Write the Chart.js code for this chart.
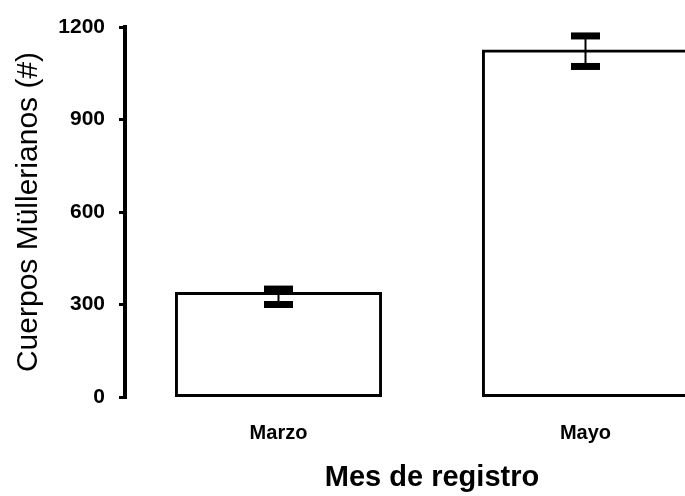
<!DOCTYPE html>
<html>
<head>
<meta charset="utf-8">
<script src="https://cdn.jsdelivr.net/npm/chart.js@4"></script>
<style>
    body { margin: 0; background: #fff; overflow: hidden; }
    #wrap { width: 685px; height: 496px; overflow: hidden; }
</style>
</head>
<body>
<div id="wrap">
    <canvas id="barChart" width="739" height="496"></canvas>
</div>
<script>
// data
const categorias = ["Marzo", "Mayo"];
const medias = [336, 1122];
const errorAlto = [350, 1171];
const errorBajo = [300, 1072];
const yTicks = [0, 300, 600, 900, 1200];

const fuente = "'Liberation Sans', Arial, sans-serif";

//draws the error bars with the chart's own y scale
const barrasError = {
    id: 'barrasError',
    afterDatasetsDraw(chart) {
        const ctx = chart.ctx;
        const y = chart.scales.y;
        const meta = chart.getDatasetMeta(0);
        ctx.save();
        ctx.fillStyle = '#000';
        ctx.strokeStyle = '#000';
        for (let i = 0; i < meta.data.length; i++) {
            const x = meta.data[i].x;
            const yHi = y.getPixelForValue(errorAlto[i]);
            const yLo = y.getPixelForValue(errorBajo[i]);
            ctx.lineWidth = 2;
            ctx.beginPath();
            ctx.moveTo(x, yHi);
            ctx.lineTo(x, yLo);
            ctx.stroke();
            ctx.fillRect(x - 14.5, yHi - 3.5, 29, 7);
            ctx.fillRect(x - 14.5, yLo - 3.5, 29, 7);
        }
        ctx.restore();
    }
};

const ctx = document.getElementById('barChart');

new Chart(ctx, {
    type: 'bar',
    data: {
        labels: categorias,
        datasets: [{
            data: medias,
            backgroundColor: '#fff',
            borderColor: '#000',
            borderWidth: 3,
            borderSkipped: false,
            inflateAmount: 1.5,
            barPercentage: 0.665,
            categoryPercentage: 1
        }]
    },
    options: {
        responsive: false,
        animation: false,
        layout: { padding: { top: 27, left: 0, right: 0, bottom: 0 } },
        plugins: {
            legend: { display: false },
            tooltip: { enabled: false }
        },
        scales: {
            x: {
                grid: { display: false },
                border: { display: false },
                ticks: {
                    color: '#000',
                    font: { family: fuente, size: 20, weight: 'bold' },
                    padding: 16
                },
                title: {
                    display: true,
                    text: 'Mes de registro',
                    color: '#000',
                    font: { family: fuente, size: 29, weight: 'bold' },
                    padding: { top: 0, bottom: 1 }
                },
                afterFit: (scale) => { scale.height = 99; }
            },
            y: {
                min: 0,
                max: 1200,
                afterBuildTicks: (scale) => {
                    scale.ticks = yTicks.map(v => ({ value: v }));
                },
                grid: {
                    drawOnChartArea: false,
                    drawTicks: true,
                    tickLength: 6,
                    color: '#000',
                    lineWidth: 3
                },
                border: { display: true, color: '#000', width: 4 },
                ticks: {
                    color: '#000',
                    font: { family: fuente, size: 21, weight: 'bold' },
                    padding: 14,
                    callback: (v) => String(v)
                },
                title: {
                    display: true,
                    text: 'Cuerpos Müllerianos (#)',
                    color: '#000',
                    font: { family: fuente, size: 30 },
                    padding: { top: 11, bottom: 0 }
                },
                afterFit: (scale) => { scale.width = 125; }
            }
        }
    },
    plugins: [barrasError]
});
</script>
</body>
</html>
